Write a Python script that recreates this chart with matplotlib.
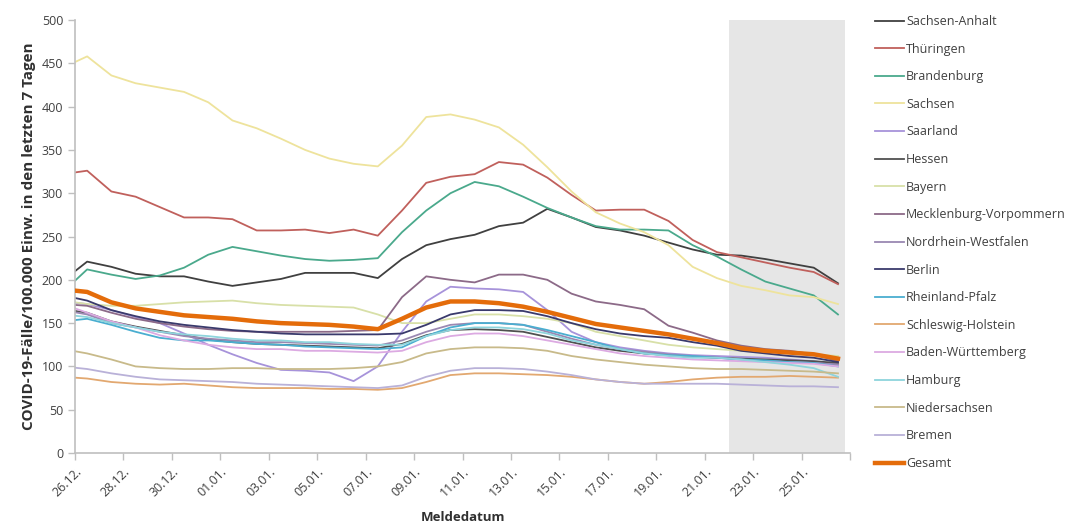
import numpy as np
import matplotlib
matplotlib.use("Agg")
import matplotlib.pyplot as plt

plt.rcParams["font.family"] = ["Open Sans", "DejaVu Sans"]

# x grid: reporting days, first point half a day before the axis start (clipped)
n_days = 33
tick_labels = ["26.12.", "28.12.", "30.12.", "01.01.", "03.01.", "05.01.", "07.01.",
               "09.01.", "11.01.", "13.01.", "15.01.", "17.01.", "19.01.", "21.01.",
               "23.01.", "25.01."]

sachsen_anhalt = [199, 221, 215, 207, 204, 204, 198, 193, 197, 201, 208, 208, 208, 202, 224, 240, 247,
                  252, 262, 266, 282, 272, 261, 257, 251, 243, 235, 229, 228, 224, 219, 214, 196]
thueringen = [322, 326, 302, 296, 284, 272, 272, 270, 257, 257, 258, 254, 258, 251, 280, 312, 319,
              322, 336, 333, 318, 298, 280, 281, 281, 268, 246, 232, 226, 220, 214, 209, 195]
brandenburg = [186, 212, 206, 201, 205, 214, 229, 238, 233, 228, 224, 222, 223, 225, 255, 280, 300,
               313, 308, 296, 283, 272, 262, 258, 258, 257, 240, 227, 212, 198, 190, 182, 160]
sachsen = [445, 458, 436, 427, 422, 417, 405, 384, 375, 363, 350, 340, 334, 331, 355, 388, 391,
           385, 376, 356, 330, 302, 278, 265, 255, 240, 215, 202, 193, 188, 182, 180, 172]
saarland = [175, 172, 165, 157, 150, 138, 125, 114, 104, 96, 95, 93, 83, 100, 140, 175, 192,
            190, 189, 186, 165, 140, 128, 122, 118, 115, 113, 112, 111, 110, 108, 106, 102]
hessen = [166, 162, 152, 146, 141, 136, 131, 128, 126, 125, 124, 123, 122, 121, 126, 136, 142,
          143, 142, 140, 134, 128, 122, 118, 115, 113, 111, 110, 109, 108, 107, 106, 104]
bayern = [176, 172, 170, 170, 172, 174, 175, 176, 173, 171, 170, 169, 168, 160, 150, 150, 155,
          160, 160, 158, 155, 150, 140, 135, 130, 125, 122, 120, 118, 117, 116, 114, 112]
mecklenburg_vorpommern = [172, 170, 162, 155, 150, 146, 143, 141, 140, 140, 140, 140, 141, 142, 180, 204, 200,
                          197, 206, 206, 200, 184, 175, 171, 166, 147, 139, 130, 124, 120, 118, 114, 106]
nordrhein_westfalen = [165, 160, 150, 145, 140, 135, 132, 130, 128, 128, 127, 126, 125, 124, 130, 140, 148,
                       150, 150, 148, 140, 132, 125, 120, 117, 114, 112, 110, 108, 106, 105, 104, 102]
berlin = [182, 176, 165, 158, 152, 148, 145, 142, 140, 138, 137, 137, 137, 137, 138, 148, 160,
          165, 165, 164, 158, 150, 143, 138, 135, 133, 128, 124, 118, 115, 112, 110, 105]
rheinland_pfalz = [152, 155, 148, 140, 133, 130, 130, 128, 126, 125, 123, 122, 121, 120, 122, 135, 145,
                   150, 150, 148, 142, 135, 128, 120, 115, 113, 112, 110, 108, 107, 105, 104, 100]
schleswig_holstein = [88, 86, 82, 80, 79, 80, 78, 76, 75, 75, 75, 74, 74, 73, 75, 82, 90,
                      92, 92, 91, 90, 88, 85, 82, 80, 82, 85, 87, 88, 88, 89, 88, 87]
baden_wuerttemberg = [172, 162, 152, 145, 136, 130, 125, 122, 120, 120, 118, 118, 117, 116, 118, 128, 135,
                      138, 138, 135, 130, 125, 120, 115, 112, 110, 108, 107, 106, 105, 104, 103, 100]
hamburg = [160, 157, 150, 145, 140, 137, 135, 132, 130, 130, 128, 128, 126, 125, 125, 135, 142,
           145, 145, 143, 138, 130, 125, 120, 115, 112, 110, 110, 108, 105, 102, 98, 88]
niedersachsen = [120, 115, 108, 100, 98, 97, 97, 98, 98, 97, 97, 97, 98, 100, 105, 115, 120,
                 122, 122, 121, 118, 112, 108, 105, 102, 100, 98, 97, 97, 96, 95, 94, 92]
bremen = [100, 97, 92, 88, 85, 84, 83, 82, 80, 79, 78, 77, 76, 75, 78, 88, 95,
          98, 98, 97, 94, 90, 85, 82, 80, 80, 80, 80, 79, 78, 77, 77, 76]
gesamt = [189, 186, 174, 167, 163, 159, 157, 155, 152, 150, 149, 148, 146, 143, 155, 168, 175,
          175, 173, 169, 163, 156, 149, 145, 141, 137, 132, 127, 121, 118, 116, 114, 109]

series = [
    ("Sachsen-Anhalt", sachsen_anhalt, "#404040"),
    ("Thüringen", thueringen, "#c0605c"),
    ("Brandenburg", brandenburg, "#4aa98c"),
    ("Sachsen", sachsen, "#eee39c"),
    ("Saarland", saarland, "#a793da"),
    ("Hessen", hessen, "#505050"),
    ("Bayern", bayern, "#d8e0a8"),
    ("Mecklenburg-Vorpommern", mecklenburg_vorpommern, "#8c6a88"),
    ("Nordrhein-Westfalen", nordrhein_westfalen, "#9a88b2"),
    ("Berlin", berlin, "#3a3a6c"),
    ("Rheinland-Pfalz", rheinland_pfalz, "#4aaed0"),
    ("Schleswig-Holstein", schleswig_holstein, "#e2a870"),
    ("Baden-Württemberg", baden_wuerttemberg, "#dcaae2"),
    ("Hamburg", hamburg, "#8ed4dc"),
    ("Niedersachsen", niedersachsen, "#c8ba8a"),
    ("Bremen", bremen, "#b9b1d8"),
]

x = np.arange(n_days) - 0.5

fig = plt.figure(figsize=(10.72, 5.27), dpi=100)
ax = fig.add_axes([0.070, 0.1404, 0.723, 0.8216])

# forecast / incomplete-data band
ax.axvspan(27, 31.8, color="#e6e6e6", lw=0, zorder=0)

for name, vals, col in series:
    ax.plot(x, vals, color=col, lw=1.3, label=name, zorder=2)
ax.plot(x, gesamt, color="#e46c0a", lw=3.2, label="Gesamt", zorder=3)

ax.set_xlim(0, 32)
ax.set_ylim(0, 500)
ax.set_yticks(np.arange(0, 501, 50))
ax.set_xticks(np.arange(0, 33, 2))
ax.set_xticklabels(tick_labels + [""], rotation=45, ha="right", rotation_mode="anchor")

for side in ("top", "right"):
    ax.spines[side].set_visible(False)
for side in ("left", "bottom"):
    ax.spines[side].set_color("#bfbfbf")
    ax.spines[side].set_linewidth(1.2)
ax.tick_params(colors="#bfbfbf", length=5, width=1, labelcolor="#404040", labelsize=9)

ax.set_ylabel("COVID-19-Fälle/100.000 Einw. in den letzten 7 Tagen",
              fontsize=11, fontweight="bold", color="#303030", labelpad=4)
ax.set_xlabel("Meldedatum", fontsize=9.5, fontweight="bold", color="#303030", labelpad=9)

ax.legend(loc="upper left", bbox_to_anchor=(0.806, 0.993), bbox_transform=fig.transFigure,
          frameon=False, fontsize=9, labelspacing=1.17, handlelength=2.3,
          handletextpad=0.15, labelcolor="#404040")

fig.savefig("out.png", dpi=100, facecolor="white")
